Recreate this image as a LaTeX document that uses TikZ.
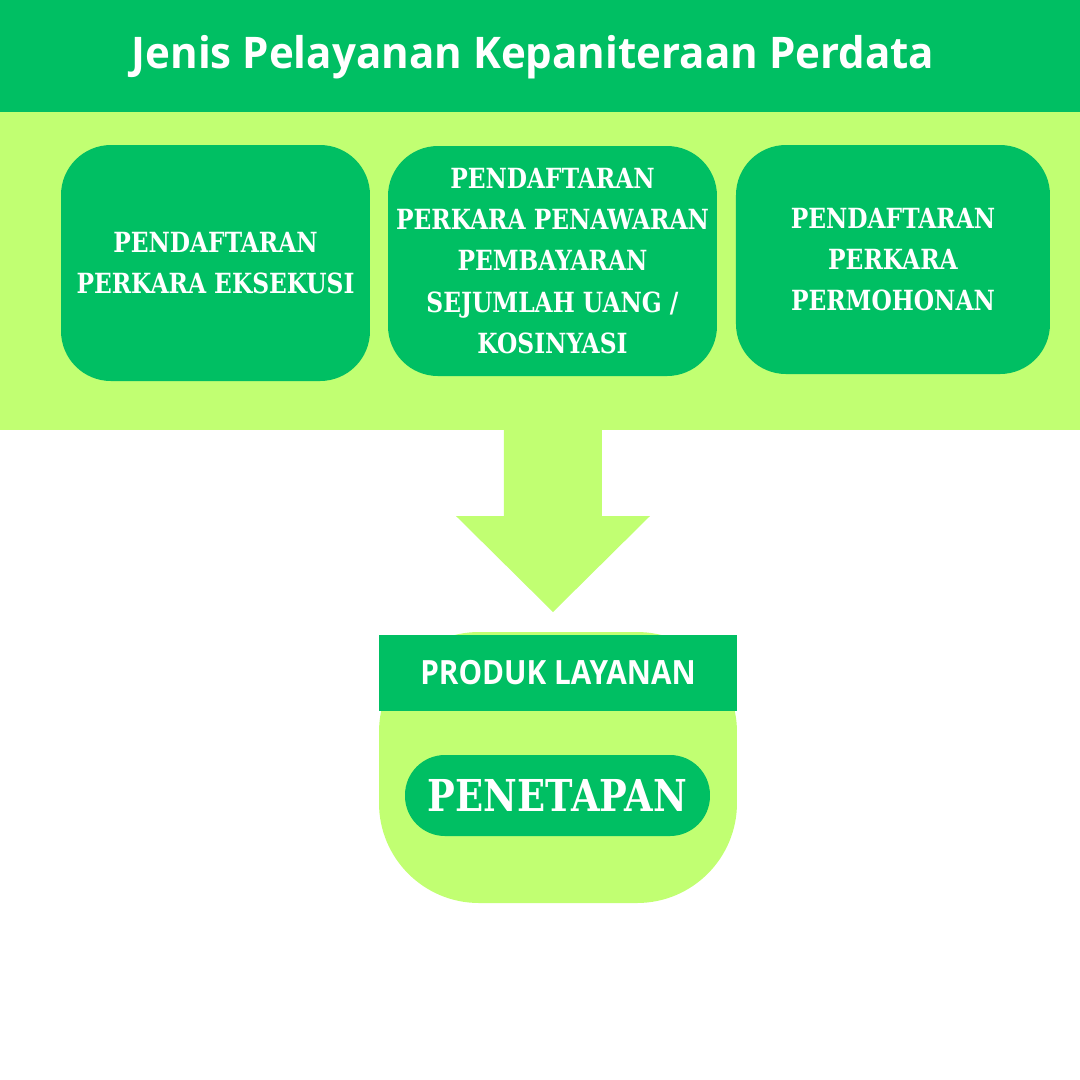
\documentclass[tikz,border=0pt]{standalone}
\usepackage{fontspec}
\setmainfont{DejaVu Serif}[FakeStretch=0.84]
\newfontfamily\sansjudul{Open Sans}[FakeStretch=0.965]
\newfontfamily\sanslabel{Open Sans}[FakeStretch=0.89]
\usetikzlibrary{positioning}
\definecolor{hijau}{HTML}{00BF63}
\definecolor{muda}{HTML}{C1FF72}

\begin{document}
\begin{tikzpicture}[x=0.1mm,y=-0.1mm]
	\useasboundingbox (0,0) rectangle (1080,1080);
	% latar
	\fill[hijau] (0,0) rectangle (1080,112);
	\fill[muda] (0,112) rectangle (1080,430);
	\node[font=\sansjudul\bfseries\fontsize{12.4}{14}\selectfont,text=white] (judul) at (533,57) {Jenis Pelayanan Kepaniteraan Perdata};
	\begin{scope}[every node/.style={fill=hijau,rounded corners=5mm,text=white,align=center,inner sep=0.5mm,
			font=\bfseries\fontsize{7.9}{11.7}\selectfont}]
		\node[minimum width=30.9mm,minimum height=23.6mm] (P1) at (215.5,263) {PENDAFTARAN\\PERKARA EKSEKUSI};
		\node[minimum width=32.9mm,minimum height=23mm] (P2) at (552.5,261) {PENDAFTARAN\\PERKARA PENAWARAN\\PEMBAYARAN\\SEJUMLAH UANG /\\KOSINYASI};
		\node[minimum width=31.4mm,minimum height=22.9mm] (P3) at (893,259.5) {PENDAFTARAN\\PERKARA\\PERMOHONAN};
	\end{scope}
	% panah
	\fill[muda] (504,430) -- (602,430) -- (602,516) -- (650,516) -- (553,612) -- (456,516) -- (504,516) -- cycle;
	% produk
	\node[fill=muda,rounded corners=10mm,minimum width=35.8mm,minimum height=27.1mm,inner sep=0pt] (wadah) at (558,767.5) {};
	\node[fill=hijau,minimum width=35.8mm,minimum height=7.6mm,inner sep=0pt,text=white,
		font=\sanslabel\bfseries\fontsize{9.5}{11}\selectfont] (produk) at (558,673) {PRODUK LAYANAN};
	\node[fill=hijau,rounded corners=4mm,minimum width=30.5mm,minimum height=8.1mm,inner sep=1mm,text=white,
		font=\bfseries\fontsize{12.5}{15}\selectfont] (tetap) at (557.5,795.5) {PENETAPAN};
\end{tikzpicture}
\end{document}
